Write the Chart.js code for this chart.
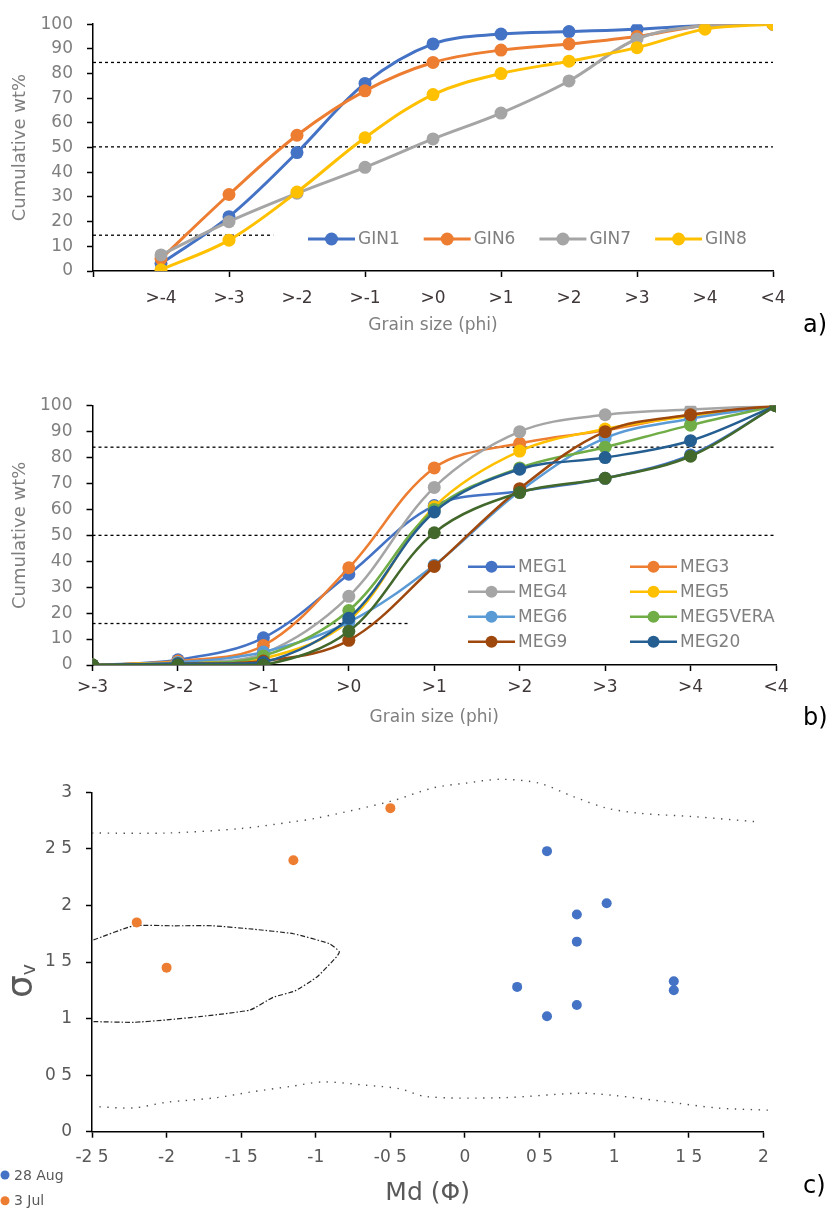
<!DOCTYPE html>
<html lang="fr">
<head>
<meta charset="utf-8">
<title>Granulométrie cumulée et diagramme Md / σv</title>
<script src="https://cdn.jsdelivr.net/npm/chart.js@4.4.1/dist/chart.umd.min.js"></script>
<style>
  body { margin: 0; background: #fff; }
  #page { position: relative; width: 831px; height: 1211px; overflow: hidden; background: #fff; }
  canvas { position: absolute; left: 0; }
  .repere { position: absolute; left: 803px; font: 24px 'DejaVu Sans', sans-serif; line-height: 24px; color: #000; }
</style>
</head>
<body>
<div id="page">
  <canvas id="graphique-a" width="831" height="345" style="top:0px"></canvas>
  <canvas id="graphique-b" width="831" height="355" style="top:380px"></canvas>
  <canvas id="graphique-c" width="831" height="451" style="top:760px"></canvas>
  <div class="repere" style="top:312px">a)</div>
  <div class="repere" style="top:705px">b)</div>
  <div class="repere" style="top:1173px">c)</div>
</div>
<script>
/** Police commune */
const police = "'DejaVu Sans', sans-serif";
Chart.defaults.font.family = police;
Chart.defaults.animation = false;

/* ---------- Panneau a) : échantillons GIN ---------- */
const etiquettesA = ['>-4', '>-3', '>-2', '>-1', '>0', '>1', '>2', '>3', '>4', '<4'];
const gin1 = [3, 22, 48, 76, 92, 96, 97, 98, 99.5, 100];
const gin6 = [5, 31, 55, 73, 84.5, 89.5, 92, 95, 99.5, 100];
const gin7 = [6.5, 20, 31.5, 42, 53.5, 64, 77, 94, 99.5, 100];
const gin8 = [0.5, 12.5, 32, 54, 71.5, 80, 85, 90.5, 98, 100];
/** Seuils pointillés (valeur, et où la ligne s'arrête sur l'axe) */
const seuilsA = [84.5, 50.3, 14.5];
const finSeuilsA = [10, 10, 2.65];

/* ---------- Panneau b) : échantillons MEG ---------- */
const etiquettesB = ['>-3', '>-2', '>-1', '>0', '>1', '>2', '>3', '>4', '<4'];
const meg1 = [0, 2, 10.5, 35, 61.5, 67, 72, 81, 100];
const meg3 = [0, 1.5, 7.5, 37.5, 76, 85.5, 90.5, 96.5, 100];
const meg4 = [0, 1, 4.5, 26.5, 68.5, 90, 96.5, 98.5, 100];
const meg5 = [0, 1, 2.5, 17, 61, 82.5, 91, 96, 100];
const meg6 = [0, 1, 5, 16.5, 38.5, 67, 87.5, 95, 100];
const meg5vera = [0, 0.5, 3.5, 21, 60, 76, 84, 92.5, 100];
const meg9 = [0, 0.5, 1.5, 9.5, 38, 68, 90, 96.5, 100];
const meg20 = [0, 0.5, 1, 18, 59, 75.5, 80, 86.5, 100];
/** Série vert foncé présente sur le graphique mais absente de la légende */
const megSansLegende = [0, 0, 0, 13, 51, 66.5, 72, 80.5, 100];
const seuilsB = [84, 50, 16];
const finSeuilsB = [8, 8, 3.71];

/* ---------- Panneau c) : Md (Φ) / σv ---------- */
const aoutX = [0.55, 0.95, 0.75, 0.75, 0.35, 0.75, 0.55, 1.4, 1.4];
const aoutY = [2.48, 2.02, 1.92, 1.68, 1.28, 1.12, 1.02, 1.33, 1.25];
const juilletX = [-2.2, -2.0, -1.15, -0.5];
const juilletY = [1.85, 1.45, 2.4, 2.86];
/** Enveloppes tracées en pointillés */
const hautX = [-2.5, -2.0, -1.5, -1.15, -1.0, -0.5, -0.21, 0, 0.24, 0.5, 0.73, 0.95, 1.17, 1.53, 1.95];
const hautY = [2.64, 2.64, 2.68, 2.74, 2.77, 2.92, 3.04, 3.08, 3.115, 3.08, 2.96, 2.86, 2.815, 2.785, 2.74];
const basX = [-2.45, -2.22, -2.0, -1.67, -1.44, -1.17, -0.95, -0.66, -0.44, -0.26, 0.24, 0.77, 1.0, 1.35, 1.69, 2.04];
const basY = [0.22, 0.21, 0.26, 0.30, 0.35, 0.40, 0.44, 0.41, 0.38, 0.31, 0.30, 0.34, 0.32, 0.265, 0.21, 0.19];
const champX = [-2.49, -2.22, -1.95, -1.69, -1.42, -1.15, -0.905, -0.842, -0.86, -0.99, -1.14, -1.285, -1.44, -1.78, -2.0, -2.22, -2.49];
const champY = [1.695, 1.82, 1.82, 1.82, 1.79, 1.75, 1.66, 1.59, 1.547, 1.37, 1.244, 1.188, 1.076, 1.017, 0.988, 0.967, 0.973];

/** Couleurs Excel */
const bleu = '#4472C4', orange = '#ED7D31', gris = '#A5A5A5', jaune = '#FFC000';
const bleuClair = '#5B9BD5', vert = '#70AD47', brun = '#9E480E', bleuFonce = '#255E91', vertFonce = '#43682B';
const grisTexte = '#7f7f7f', grisFonce = '#595959', noirTexte = '#403838';

/**
 * Plugin : légende dessinée dans la zone du graphique (trait + rond).
 */
const legendeLigne = {
  id: 'legendeLigne',
  afterDraw(chart, args, opts) {
    const {ctx} = chart;
    const items = chart.data.datasets.filter(d => d.label);
    ctx.save();
    ctx.font = `${opts.taille}px ${police}`;
    ctx.textBaseline = 'middle';
    ctx.textAlign = 'left';
    items.forEach((d, i) => {
      const x = opts.x + (i % opts.colonnes) * opts.pasX;
      const y = opts.y + Math.floor(i / opts.colonnes) * opts.pasY;
      if (opts.ligne) {
        ctx.strokeStyle = d.borderColor;
        ctx.lineWidth = d.borderWidth;
        ctx.beginPath();
        ctx.moveTo(x, y);
        ctx.lineTo(x + opts.trait, y);
        ctx.stroke();
      }
      ctx.fillStyle = d.pointBackgroundColor || d.backgroundColor;
      ctx.beginPath();
      ctx.arc(x + opts.trait / 2, y, opts.rayon, 0, Math.PI * 2);
      ctx.fill();
      ctx.fillStyle = opts.couleur;
      ctx.fillText(d.label, x + opts.trait + opts.ecart, y + 1);
    });
    ctx.restore();
  }
};

/**
 * Plugin : titre vertical σ avec l'indice v.
 */
const titreSigma = {
  id: 'titreSigma',
  afterDraw(chart, args, opts) {
    const {ctx} = chart;
    ctx.save();
    ctx.translate(opts.x, opts.y);
    ctx.rotate(-Math.PI / 2);
    ctx.fillStyle = opts.couleur;
    ctx.textAlign = 'left';
    ctx.textBaseline = 'alphabetic';
    ctx.font = `${opts.taille}px ${police}`;
    const largeur = ctx.measureText('σ').width;
    ctx.fillText('σ', 0, 0);
    ctx.font = `${opts.tailleIndice}px ${police}`;
    ctx.fillText('v', largeur, opts.decalage);
    ctx.restore();
  }
};

/** Construit une courbe lissée façon Excel */
const serie = function(label, valeurs, couleur, rang, decalage, epaisseur) {
  return {
    label, order: rang,
    data: valeurs.map((y, i) => ({x: i + decalage, y})),
    borderColor: couleur, backgroundColor: couleur,
    pointBackgroundColor: couleur, pointBorderColor: couleur,
    borderWidth: epaisseur, pointRadius: 6.5, pointBorderWidth: 0,
    tension: 0.35
  };
};

/** Lignes de seuil en pointillés noirs */
const seuils = function(valeurs, fins) {
  return valeurs.map((v, i) => ({
    label: '', order: 100,
    data: [{x: 0, y: v}, {x: fins[i], y: v}],
    borderColor: '#000', borderWidth: 1.3, borderDash: [3, 3],
    pointRadius: 0, tension: 0
  }));
};

const versPoints = (xs, ys) => xs.map((x, i) => ({x, y: ys[i]}));

/** Axes des deux graphiques cumulés */
const axesCumul = function(etiquettes, max, hauteurX, largeurY, marqueTous, paddingTick, paddingTitre) {
  return {
    x: {
      type: 'linear', min: 0, max,
      afterFit: (s) => { s.height = hauteurX; },
      border: {color: '#000', width: 1.5},
      grid: {
        drawOnChartArea: false, tickLength: 6, tickWidth: 1.5,
        tickColor: (c) => (c.tick && (marqueTous || c.tick.value % 2 === 0)) ? '#000' : 'rgba(0,0,0,0)'
      },
      ticks: {
        stepSize: 1, autoSkip: false, maxRotation: 0, padding: paddingTick,
        color: noirTexte, font: {size: 17},
        callback: (v) => etiquettes[v - (max - etiquettes.length + 1)] ?? ''
      },
      title: {display: true, text: 'Grain size (phi)', color: grisTexte, font: {size: 17}, padding: {top: 0, bottom: paddingTitre}}
    },
    y: {
      min: 0, max: 100,
      afterFit: (s) => { s.width = largeurY; },
      border: {color: '#000', width: 1.5},
      grid: {drawOnChartArea: false, tickLength: 6, tickWidth: 1.5, tickColor: '#000'},
      ticks: {stepSize: 10, padding: 14, color: grisTexte, font: {size: 17}},
      title: {display: true, text: 'Cumulative wt%', color: grisTexte, font: {size: 18}, padding: {top: 10, bottom: 0}}
    }
  };
};

/* ---------- Graphique a) ---------- */
const seriesA = [['GIN1', gin1, bleu], ['GIN6', gin6, orange], ['GIN7', gin7, gris], ['GIN8', gin8, jaune]];
new Chart(document.getElementById('graphique-a'), {
  type: 'line',
  data: {
    datasets: [
      ...seriesA.map((s, i) => serie(s[0], s[1], s[2], seriesA.length - i, 1, 3)),
      ...seuils(seuilsA, finSeuilsA)
    ]
  },
  options: {
    responsive: false,
    layout: {padding: {left: 0, top: 22, right: 58, bottom: 0}},
    scales: axesCumul(etiquettesA, 10, 74, 93, false, 11, 9),
    plugins: {
      legend: {display: false}, tooltip: {enabled: false},
      legendeLigne: {x: 308, y: 239, colonnes: 4, pasX: 115.7, pasY: 0, trait: 47, ecart: 3, rayon: 6.5, taille: 17, couleur: grisTexte, ligne: true}
    }
  },
  plugins: [legendeLigne]
});

/* ---------- Graphique b) ---------- */
const seriesB = [
  ['MEG1', meg1, bleu], ['MEG3', meg3, orange], ['MEG4', meg4, gris], ['MEG5', meg5, jaune],
  ['MEG6', meg6, bleuClair], ['MEG5VERA', meg5vera, vert], ['MEG9', meg9, brun], ['MEG20', meg20, bleuFonce],
  ['', megSansLegende, vertFonce]
];
new Chart(document.getElementById('graphique-b'), {
  type: 'line',
  data: {
    datasets: [
      ...seriesB.map((s, i) => serie(s[0], s[1], s[2], seriesB.length - i, 0, 2.5)),
      ...seuils(seuilsB, finSeuilsB)
    ]
  },
  options: {
    responsive: false,
    layout: {padding: {left: 0, top: 25.7, right: 55, bottom: 0}},
    scales: axesCumul(etiquettesB, 8, 70, 92.5, true, 6, 7),
    plugins: {
      legend: {display: false}, tooltip: {enabled: false},
      legendeLigne: {x: 468, y: 186.7, colonnes: 2, pasX: 162, pasY: 25, trait: 47, ecart: 3, rayon: 6, taille: 17, couleur: grisTexte, ligne: true}
    }
  },
  plugins: [legendeLigne]
});

/* ---------- Graphique c) ---------- */
const formatDecimal = (v) => String(v).replace('.', ' ');
new Chart(document.getElementById('graphique-c'), {
  type: 'scatter',
  data: {
    datasets: [
      {label: '28 Aug', data: versPoints(aoutX, aoutY), backgroundColor: bleu, pointBackgroundColor: bleu, pointRadius: 5, pointBorderWidth: 0, order: 1},
      {label: '3 Jul', data: versPoints(juilletX, juilletY), backgroundColor: orange, pointBackgroundColor: orange, pointRadius: 5, pointBorderWidth: 0, order: 2},
      {label: '', data: versPoints(hautX, hautY), showLine: true, borderColor: '#505050', borderWidth: 1.4, borderDash: [1.4, 6.5], pointRadius: 0, tension: 0.3, clip: false, order: 10},
      {label: '', data: versPoints(basX, basY), showLine: true, borderColor: '#505050', borderWidth: 1.4, borderDash: [1.4, 6.5], pointRadius: 0, tension: 0.3, clip: false, order: 11},
      {label: '', data: versPoints(champX, champY), showLine: true, borderColor: '#222', borderWidth: 1.2, borderDash: [5, 2, 1.5, 2], pointRadius: 0, tension: 0.15, clip: false, order: 12}
    ]
  },
  options: {
    responsive: false,
    layout: {padding: {left: 0, top: 32.3, right: 67.7, bottom: 0}},
    scales: {
      x: {
        type: 'linear', min: -2.5, max: 2,
        afterFit: (s) => { s.height = 79.3; },
        border: {color: '#000', width: 1.5},
        grid: {drawOnChartArea: false, tickLength: 6, tickWidth: 1.5, tickColor: '#000'},
        ticks: {stepSize: 0.5, autoSkip: false, maxRotation: 0, padding: 10, color: grisFonce, font: {size: 17}, callback: formatDecimal},
        title: {display: true, text: 'Md (Φ)', color: grisFonce, font: {size: 25}, padding: {top: 0, bottom: 3}}
      },
      y: {
        min: 0, max: 3,
        afterFit: (s) => { s.width = 92; },
        border: {color: '#000', width: 1.5},
        grid: {drawOnChartArea: false, tickLength: 6, tickWidth: 1.5, tickColor: '#000'},
        ticks: {stepSize: 0.5, padding: 14, color: grisFonce, font: {size: 17}, callback: formatDecimal}
      }
    },
    plugins: {
      legend: {display: false}, tooltip: {enabled: false},
      legendeLigne: {x: 0, y: 415, colonnes: 1, pasX: 0, pasY: 25.7, trait: 10, ecart: 4, rayon: 4.5, taille: 14, couleur: grisFonce, ligne: false},
      titreSigma: {x: 32, y: 238, taille: 36, tailleIndice: 19, decalage: 3, couleur: grisFonce}
    }
  },
  plugins: [legendeLigne, titreSigma]
});
</script>
</body>
</html>
